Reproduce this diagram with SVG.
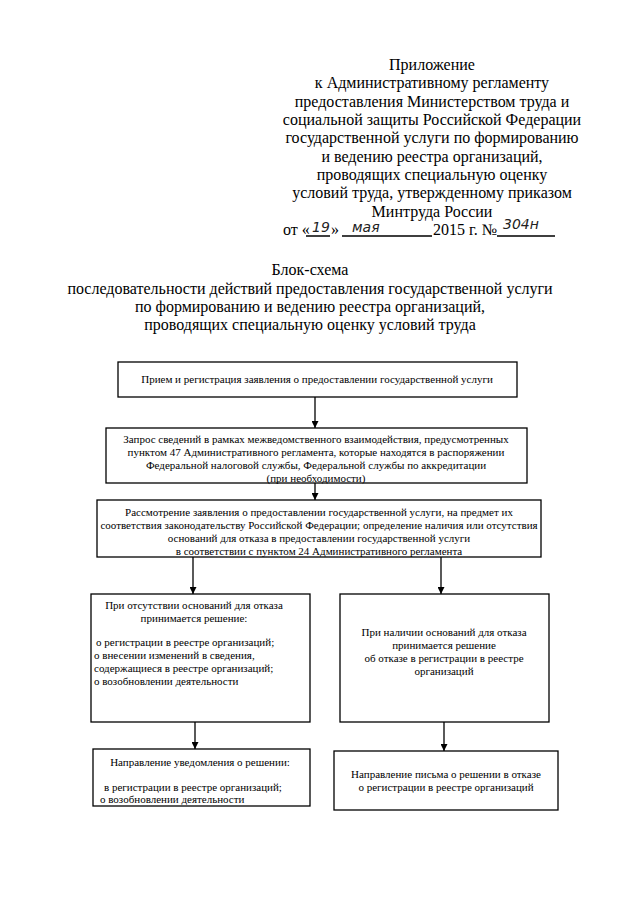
<svg xmlns="http://www.w3.org/2000/svg" width="640" height="905" viewBox="0 0 640 905">
<style>
.h{font-family:"Liberation Serif","Times New Roman",serif;font-size:16px;fill:#000;text-anchor:middle}
.b{font-family:"Liberation Serif","Times New Roman",serif;font-size:11px;fill:#000;text-anchor:middle}
.l{text-anchor:start}
.hw{font-family:"DejaVu Sans",sans-serif;font-style:italic;font-size:14px;fill:#222}
.box{fill:#fff;stroke:#000;stroke-width:1.3}
.c{stroke:#000;stroke-width:1.3;fill:none}
</style>
<defs>
<marker id="ah" viewBox="0 0 10 10" refX="10" refY="5" markerWidth="7" markerHeight="7" markerUnits="userSpaceOnUse" orient="auto">
<path d="M0,0 L10,5 L0,10 z" fill="#000"/>
</marker>
</defs>
<rect width="640" height="905" fill="#fff"/>
<g id="header">
<text class="h" x="432" y="70">Приложение</text>
<text class="h" x="432" y="88">к Административному регламенту</text>
<text class="h" x="432" y="107">предоставления Министерством труда и</text>
<text class="h" x="432" y="125">социальной защиты Российской Федерации</text>
<text class="h" x="432" y="143">государственной услуги по формированию</text>
<text class="h" x="432" y="162">и ведению реестра организаций,</text>
<text class="h" x="432" y="180">проводящих специальную оценку</text>
<text class="h" x="432" y="198">условий труда, утвержденному приказом</text>
<text class="h" x="432" y="217">Минтруда России</text>
<text class="h l" x="283" y="235">от «</text>
<text class="hw" x="312" y="232">19</text>
<text class="h l" x="331" y="235">»</text>
<text class="hw" x="352" y="232">мая</text>
<text class="h l" x="433" y="235">2015 г. №</text>
<text class="hw" x="503" y="229" font-size="12">304н</text>
<path class="c" d="M306,236 H330 M342,236 H432 M497,236 H555" stroke-width="1"/>
</g>
<g id="title">
<text class="h" x="310" y="275">Блок-схема</text>
<text class="h" x="310" y="294">последовательности действий предоставления государственной услуги</text>
<text class="h" x="310" y="312">по формированию и ведению реестра организаций,</text>
<text class="h" x="310" y="330">проводящих специальную оценку условий труда</text>
</g>
<g id="connectors">
<path class="c" d="M315,397 V428" marker-end="url(#ah)"/>
<path class="c" d="M315,483 V500" marker-end="url(#ah)"/>
<path class="c" d="M193,557 V594" marker-end="url(#ah)"/>
<path class="c" d="M441,557 V594" marker-end="url(#ah)"/>
<path class="c" d="M195,722 V749" marker-end="url(#ah)"/>
<path class="c" d="M444,722 V751" marker-end="url(#ah)"/>
</g>
<g id="n1">
<rect class="box" x="118" y="362" width="399" height="35"/>
<text class="b" x="317" y="383">Прием и регистрация заявления о предоставлении государственной услуги</text>
</g>
<g id="n2">
<rect class="box" x="106" y="428" width="421" height="55"/>
<text class="b" x="316" y="443">Запрос сведений в рамках межведомственного взаимодействия, предусмотренных</text>
<text class="b" x="316" y="456">пунктом 47 Административного регламента, которые находятся в распоряжении</text>
<text class="b" x="316" y="469">Федеральной налоговой службы, Федеральной службы по аккредитации</text>
<text class="b" x="316" y="482">(при необходимости)</text>
</g>
<g id="n3">
<rect class="box" x="97" y="500" width="444" height="57"/>
<text class="b" x="319" y="516">Рассмотрение заявления о предоставлении государственной услуги, на предмет их</text>
<text class="b" x="319" y="529">соответствия законодательству Российской Федерации; определение наличия или отсутствия</text>
<text class="b" x="319" y="542">оснований для отказа в предоставлении государственной услуги</text>
<text class="b" x="319" y="555">в соответствии с пунктом 24 Административного регламента</text>
</g>
<g id="n4">
<rect class="box" x="91" y="594" width="219" height="128"/>
<text class="b" x="194" y="609">При отсутствии оснований для отказа</text>
<text class="b" x="194" y="622">принимается решение:</text>
<text class="b l" x="96" y="646">о регистрации в реестре организаций;</text>
<text class="b l" x="94" y="659">о внесении изменений в сведения,</text>
<text class="b l" x="94" y="672">содержащиеся в реестре организаций;</text>
<text class="b l" x="94" y="685">о возобновлении деятельности</text>
</g>
<g id="n5">
<rect class="box" x="340" y="594" width="209" height="128"/>
<text class="b" x="444" y="636">При наличии оснований для отказа</text>
<text class="b" x="444" y="649">принимается решение</text>
<text class="b" x="444" y="662">об отказе в регистрации в реестре</text>
<text class="b" x="444" y="675">организаций</text>
</g>
<g id="n6">
<rect class="box" x="93" y="749" width="217" height="57"/>
<text class="b" x="200" y="766">Направление уведомления о решении:</text>
<text class="b l" x="104" y="791">в регистрации в реестре организаций;</text>
<text class="b l" x="100" y="803">о возобновлении деятельности</text>
</g>
<g id="n7">
<rect class="box" x="334" y="751" width="224" height="59"/>
<text class="b" x="446" y="778">Направление письма о решении в отказе</text>
<text class="b" x="446" y="791">о регистрации в реестре организаций</text>
</g>
</svg>
